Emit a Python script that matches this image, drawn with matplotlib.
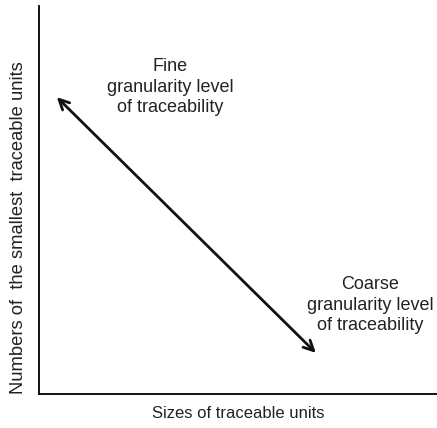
import matplotlib
matplotlib.use('Agg')
import matplotlib.pyplot as plt

plt.rcParams['font.family'] = ['Liberation Sans', 'DejaVu Sans']

# arrow end points in axes units (x, y)
arrow_start = [0.046, 0.765]
arrow_end = [0.696, 0.106]

labels = ['Fine\ngranularity level\nof traceability',
          'Coarse\ngranularity level\nof traceability']
label_pos = [[0.33, 0.791], [0.832, 0.229]]

x_title = 'Sizes of traceable units'
y_title = 'Numbers of  the smallest  traceable units'

fig = plt.figure(figsize=(4.37, 4.28), dpi=100)
ax = fig.add_axes([38.5 / 437, 34 / 428, 1 - 38.5 / 437, 388 / 428])
ax.set_xlim(0, 1)
ax.set_ylim(0, 1)
ax.spines['top'].set_visible(False)
ax.spines['right'].set_visible(False)
ax.spines['left'].set_linewidth(1.3)
ax.spines['bottom'].set_linewidth(1.3)
ax.set_xticks([])
ax.set_yticks([])

ax.annotate('', xy=arrow_end, xytext=arrow_start,
            arrowprops=dict(arrowstyle='<->', lw=2.0, color='#111111',
                            mutation_scale=18, shrinkA=0, shrinkB=0))

for txt, pos in zip(labels, label_pos):
    ax.text(pos[0], pos[1], txt, ha='center', va='center', fontsize=13,
            linespacing=1.25, color='#222222')

ax.set_xlabel(x_title, fontsize=12, labelpad=9, color='#222222')
ax.set_ylabel(y_title, fontsize=13.2, color='#222222')
ax.yaxis.set_label_coords(-0.03, 0.429)

fig.savefig('out.png', dpi=100)
